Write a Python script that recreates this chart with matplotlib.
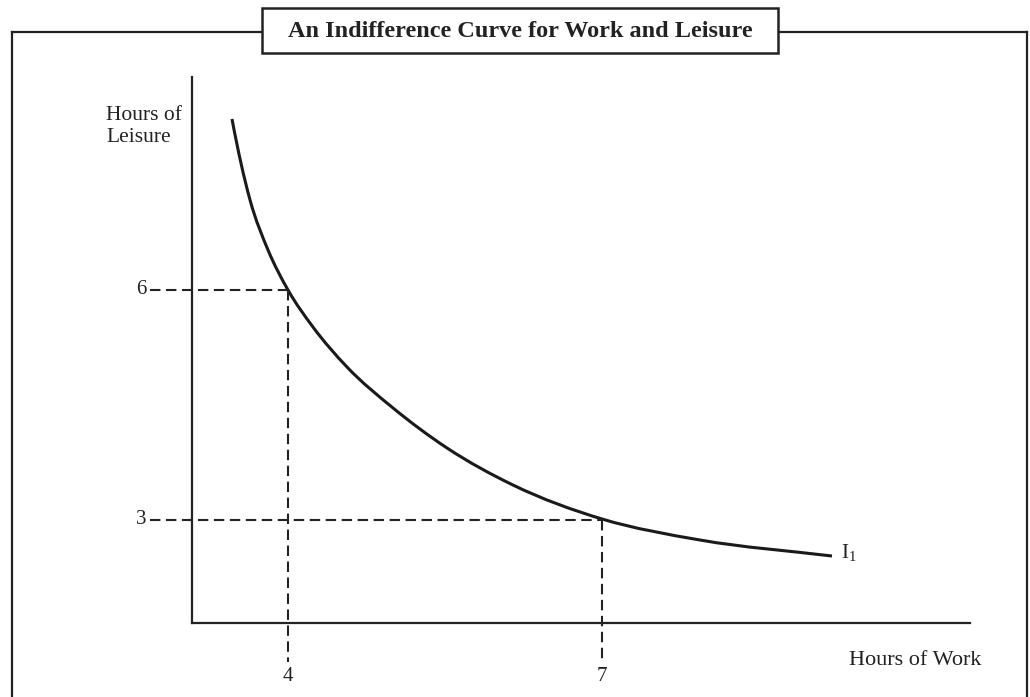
import matplotlib
matplotlib.use("Agg")
import matplotlib.pyplot as plt
from matplotlib.patches import Rectangle, PathPatch
from matplotlib.path import Path
from matplotlib.lines import Line2D

plt.rcParams['font.family'] = ['Liberation Serif', 'DejaVu Serif']
plt.rcParams['mathtext.fontset'] = 'custom'
plt.rcParams['mathtext.rm'] = 'Liberation Serif'
plt.rcParams['lines.scale_dashes'] = False

# ---- data (schematic units) ----
title = "An Indifference Curve for Work and Leisure"
x_label = "Hours of Work"
y_label = "Hours of\nLeisure"
curve_label = r"I$_{\mathregular{1}}$"

curve_x = [5.14, 7.46, 9.77, 12.34, 15.55, 19.92, 25.84, 32.78, 41.26,
           52.70, 65.30, 82.26]
curve_y = [92.31, 77.47, 68.32, 60.99, 54.21, 46.89, 39.38, 32.05,
           25.27, 19.05, 15.20, 12.27]

work_ticks = ["4", "7"]
work_pos = [12.34, 52.70]
leisure_ticks = ["6", "3"]
leisure_pos = [60.99, 18.9]

W, H = 1030, 697
fig = plt.figure(figsize=(W / 100, H / 100), dpi=100)


def fx(px):
    return px / W


def fy(py):
    return 1 - py / H


INK = '#222222'

# outer frame (top line interrupted by title box)
frame_kw = dict(color=INK, lw=1.6, transform=fig.transFigure)
fig.add_artist(Line2D([fx(12), fx(12)], [fy(32), fy(700)], **frame_kw))
fig.add_artist(Line2D([fx(1027), fx(1027)], [fy(32), fy(700)], **frame_kw))
fig.add_artist(Line2D([fx(12), fx(1027)], [fy(32), fy(32)], **frame_kw))
box = Rectangle((fx(262), fy(53)), fx(778) - fx(262), fy(8) - fy(53),
                transform=fig.transFigure, facecolor='white',
                edgecolor=INK, lw=1.8, zorder=5)
fig.add_artist(box)
fig.text((fx(262) + fx(778)) / 2, (fy(8) + fy(53)) / 2 - 0.002, title,
         ha='center', va='center', fontsize=17.5, fontweight='bold',
         color=INK, zorder=6)

# plot axes
ax = fig.add_axes([fx(192), fy(623), fx(970) - fx(192), fy(77) - fy(623)])
ax.set_xlim(0, 100)
ax.set_ylim(0, 100)
ax.patch.set_alpha(0)
for s in ['top', 'right']:
    ax.spines[s].set_visible(False)
for s in ['left', 'bottom']:
    ax.spines[s].set_linewidth(1.6)
    ax.spines[s].set_color(INK)
ax.set_xticks([])
ax.set_yticks([])

# smooth curve through the read points: cubic Hermite segments drawn as Bezier path
n = len(curve_x)
h = [curve_x[i + 1] - curve_x[i] for i in range(n - 1)]
d = [(curve_y[i + 1] - curve_y[i]) / h[i] for i in range(n - 1)]
m = [0.0] * n
m[0] = d[0] + (d[0] - d[1]) * h[0] / (h[0] + h[1])
m[-1] = d[-1]
for i in range(1, n - 1):
    m[i] = (d[i - 1] * h[i] + d[i] * h[i - 1]) / (h[i - 1] + h[i])
verts = [(curve_x[0], curve_y[0])]
codes = [Path.MOVETO]
for i in range(n - 1):
    c1 = (curve_x[i] + h[i] / 3, curve_y[i] + m[i] * h[i] / 3)
    c2 = (curve_x[i + 1] - h[i] / 3, curve_y[i + 1] - m[i + 1] * h[i] / 3)
    verts += [c1, c2, (curve_x[i + 1], curve_y[i + 1])]
    codes += [Path.CURVE4] * 3
ax.add_patch(PathPatch(Path(verts, codes), facecolor='none',
                       edgecolor='#1a1a1a', lw=2.2, capstyle='butt'))
ax.text(curve_x[-1] + 1.2, curve_y[-1] + 0.6, curve_label, fontsize=15,
        ha='left', va='center', color=INK)

# dashed guide lines
dash = (7.5, 4.0)
x_left = -5.4
y_bottom = -7.1
for xp, yp, xl, yl in zip(work_pos, leisure_pos, work_ticks, leisure_ticks):
    ax.plot([x_left, xp], [yp, yp], color=INK, lw=1.5,
            dashes=dash, clip_on=False)
    ax.plot([xp, xp], [yp, y_bottom], color=INK, lw=1.5,
            dashes=dash, clip_on=False)
    ax.text(x_left - 0.5, yp, yl, ha='right', va='center', fontsize=15,
            color=INK)
    ax.text(xp, y_bottom - 1.0, xl, ha='center', va='top', fontsize=15,
            color=INK)

# axis labels
ax.text(100 + 1.4, -6.9, x_label, ha='right', va='center', fontsize=16,
        color=INK, clip_on=False)
ax.text(-11.0, 91.0, y_label, ha='left', va='center', fontsize=15.5,
        color=INK, linespacing=1.2)

fig.savefig('out.png', dpi=100)
